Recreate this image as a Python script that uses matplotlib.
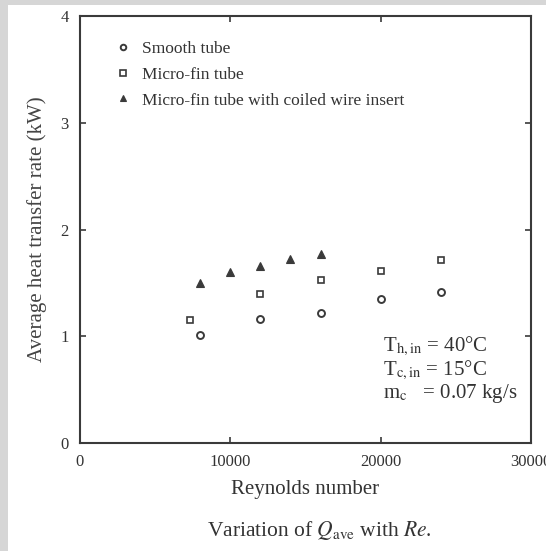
import matplotlib
matplotlib.use("Agg")
from matplotlib import pyplot as plt
from matplotlib.patches import Rectangle

plt.rcParams['font.family'] = ['Liberation Serif', 'DejaVu Serif']
plt.rcParams['mathtext.fontset'] = 'stix'

# Data (Reynolds number, heat transfer rate in kW)
smooth_re = [8000, 12000, 16000, 20000, 24000]
smooth_q = [1.01, 1.16, 1.22, 1.35, 1.41]

microfin_re = [7300, 12000, 16000, 20000, 24000]
microfin_q = [1.15, 1.40, 1.53, 1.61, 1.71]

coiled_re = [8000, 10000, 12000, 14000, 16000]
coiled_q = [1.50, 1.60, 1.66, 1.72, 1.77]

series_labels = ['Smooth tube', 'Micro-fin tube', 'Micro-fin tube with coiled wire insert']
x_ticks = [0, 10000, 20000, 30000]
y_ticks = [0, 1, 2, 3, 4]

ink = '#3a3a3a'

fig = plt.figure(figsize=(5.46, 5.51), dpi=100)
fig.patch.set_facecolor('white')
# grey page margins of the scanned figure
fig.patches.append(Rectangle((0, 0), 8 / 546, 1, transform=fig.transFigure,
                             facecolor='#d6d6d6', edgecolor='none', zorder=-1))
fig.patches.append(Rectangle((0, 1 - 5 / 551), 1, 5 / 551, transform=fig.transFigure,
                             facecolor='#d6d6d6', edgecolor='none', zorder=-1))

ax = fig.add_axes([80 / 546, 1 - 443 / 551, 451 / 546, 427 / 551])

ax.plot(smooth_re, smooth_q, linestyle='none', marker='o', ms=5,
        mfc='white', mec=ink, mew=1.4, label=series_labels[0])
ax.plot(microfin_re, microfin_q, linestyle='none', marker='s', ms=5,
        mfc='white', mec=ink, mew=1.2, label=series_labels[1])
ax.plot(coiled_re, coiled_q, linestyle='none', marker='^', ms=6,
        mfc=ink, mec=ink, mew=0.8, label=series_labels[2])

ax.set_xlim(0, 30000)
ax.set_ylim(0, 4)
ax.set_xticks(x_ticks)
ax.set_yticks(y_ticks)
ax.tick_params(direction='in', length=4, width=1.2, color=ink,
               top=True, right=True, labelsize=12, labelcolor='#333333', pad=8)
for side in ax.spines.values():
    side.set_linewidth(1.5)
    side.set_color(ink)

ax.set_xlabel('Reynolds number', fontsize=15, color='#333333', labelpad=7)
ax.set_ylabel('Average heat transfer rate (kW)', fontsize=15, color='#444444', labelpad=10)

ax.legend(loc='upper left', bbox_to_anchor=(0.045, 0.978), frameon=False,
          fontsize=12.5, markerscale=0.8, handlelength=0.8, handletextpad=0.7,
          labelspacing=0.55, labelcolor='#333333')

ax.text(0.672, 0.171, r'T$_{\rm h,in}$ = 40°C' + '\n' + r'T$_{\rm c,in}$ = 15°C' + '\n'
        + r'm$_{\rm c}$   = 0.07 kg/s',
        transform=ax.transAxes, fontsize=15, color='#333333',
        va='center', ha='left', linespacing=1.0)

fig.text(0.585, 1 - 530 / 551, r'Variation of $Q_{\rm ave}$ with $Re$.',
         fontsize=15.5, color='#333333', ha='center', va='center')

fig.savefig('out.png', dpi=100)
